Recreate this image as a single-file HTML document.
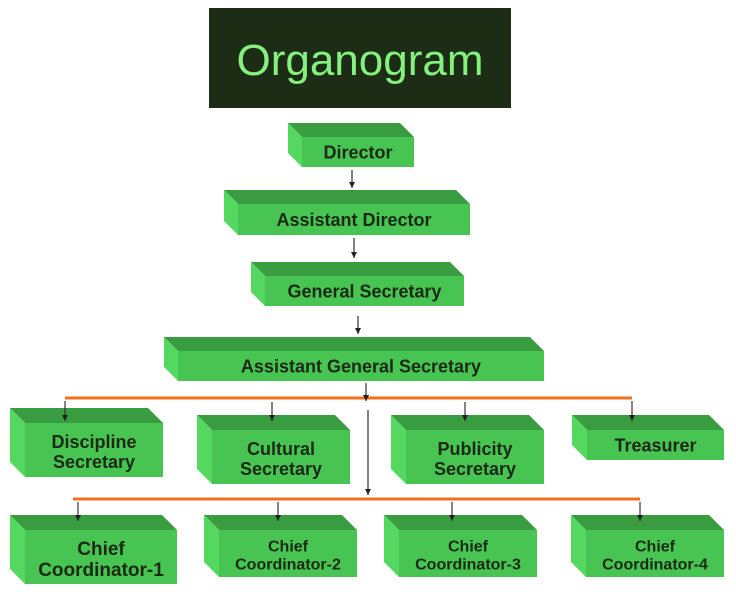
<!DOCTYPE html>
<html><head><style>body{margin:0;background:#fff}svg{display:block}text{font-family:"Liberation Sans",Arial,sans-serif;font-weight:bold;fill:#1a2a14;text-anchor:middle}</style></head><body>
<svg width="736" height="608" viewBox="0 0 736 608" xmlns="http://www.w3.org/2000/svg">
<defs><marker id="a" markerWidth="6" markerHeight="6" refX="6" refY="3" orient="auto" markerUnits="userSpaceOnUse"><path d="M0,0 L6,3 L0,6 z" fill="#222"/></marker></defs>
<rect x="209" y="8" width="302" height="100" fill="#1d2c15"/>
<text x="360" y="75" style="font-weight:normal;font-size:44px;fill:#84f07e">Organogram</text>
<g id="boxes"></g>
<g stroke="#f07020" stroke-width="3"><line x1="65" y1="398" x2="632" y2="398"/><line x1="73" y1="499" x2="640" y2="499"/></g>
<g stroke="#333" stroke-width="1.2" marker-end="url(#a)">
<line x1="352" y1="170" x2="352" y2="188"/><line x1="354" y1="238" x2="354" y2="258"/><line x1="358" y1="316" x2="358" y2="334"/><line x1="366" y1="383" x2="366" y2="401"/>
<line x1="65" y1="401" x2="65" y2="421"/><line x1="272" y1="402" x2="272" y2="421"/><line x1="465" y1="402" x2="465" y2="421"/><line x1="632" y1="401" x2="632" y2="421"/>
<line x1="368" y1="410" x2="368" y2="495"/>
<line x1="78" y1="502" x2="78" y2="521"/><line x1="278" y1="502" x2="278" y2="521"/><line x1="452" y1="502" x2="452" y2="521"/><line x1="640" y1="502" x2="640" y2="521"/>
</g>
</svg>
<script>
const B=[[288,123,112,30,14,["Director"],18],[224,190,232,31,14,["Assistant Director"],18],[251,262,199,30,14,["General Secretary"],18],[164,337,366,30,14,["Assistant General Secretary"],18],
[10,408,138,54,15,["Discipline","Secretary"],18],[197,415,138,54,15,["Cultural","Secretary"],18],[391,415,138,54,15,["Publicity","Secretary"],18],[572,415,137,30,15,["Treasurer"],18],
[10,515,152,54,15,["Chief","Coordinator-1"],19],[204,515,138,47,15,["Chief","Coordinator-2"],16],[384,515,138,47,15,["Chief","Coordinator-3"],16],[571,515,138,47,15,["Chief","Coordinator-4"],16]];
const g=document.getElementById('boxes');let s='';
for(const [x,y,w,h,d,t,f] of B){
s+=`<polygon points="${x},${y} ${x+w},${y} ${x+w+d},${y+d} ${x+d},${y+d}" fill="#3a9c40"/>`;
s+=`<polygon points="${x},${y} ${x+d},${y+d} ${x+d},${y+d+h} ${x},${y+h}" fill="#55d860"/>`;
s+=`<rect x="${x+d}" y="${y+d}" width="${w}" height="${h}" fill="#48c452"/>`;
const cx=x+d+w/2,cy=y+d+h/2;
if(t.length==1)s+=`<text x="${cx}" y="${cy+f*0.35}" font-size="${f}">${t[0]}</text>`;
else{s+=`<text x="${cx}" y="${cy-2}" font-size="${f}">${t[0]}</text><text x="${cx}" y="${cy+f}" font-size="${f}">${t[1]}</text>`;}
}
g.innerHTML=s;
</script>
</body></html>
